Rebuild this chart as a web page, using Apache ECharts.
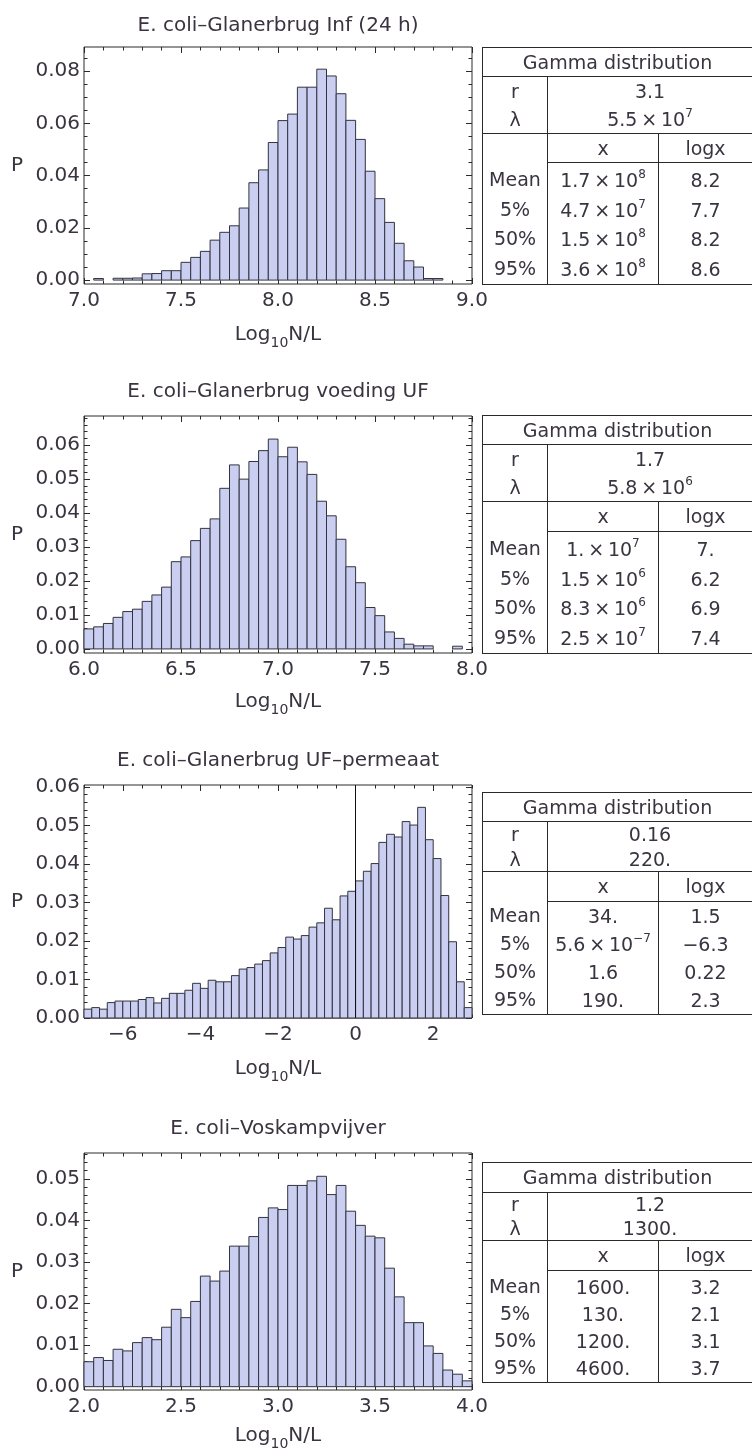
<!DOCTYPE html>
<html>
<head>
<meta charset="utf-8">
<script src="https://cdn.jsdelivr.net/npm/echarts@6/dist/echarts.min.js"></script>
<style>
  html, body { margin: 0; padding: 0; background: #fff; }
  #chart { position: absolute; left: 0; top: 0; width: 752px; height: 1449px; }
  .gt { position: absolute; left: 482px; width: 270px; border-collapse: collapse; table-layout: fixed;
        font-family: 'DejaVu Sans', sans-serif; font-size: 19px; color: #3a3340; }
  .gt td { border: 1px solid #2a2a2a; padding: 0; text-align: center; vertical-align: top; white-space: nowrap; }
  .gt sup { font-size: 12px; line-height: 0; position: relative; top: -9px; vertical-align: baseline; }
</style>
</head>
<body>
<div id="chart"></div>
<div id="tables"></div>
<script>
// histogram data: probability per bin, bins of fixed width from binStart
const infBinStart = 7.0, infBinWidth = 0.05;
const infP = [0, 0.0006, 0, 0.0007, 0.0007, 0.0008, 0.0024, 0.0025, 0.0036, 0.0036,
  0.0068, 0.0087, 0.011, 0.0153, 0.0183, 0.0208, 0.0276, 0.0373, 0.0422, 0.0527,
  0.0611, 0.0636, 0.0739, 0.0739, 0.0808, 0.0782, 0.0714, 0.0612, 0.0539, 0.0417,
  0.0312, 0.0221, 0.0141, 0.0074, 0.005, 0.0006, 0.0006, 0, 0, 0];

const voedBinStart = 6.0, voedBinWidth = 0.05;
const voedP = [0.0059, 0.0065, 0.0075, 0.0093, 0.011, 0.0117, 0.014, 0.0159, 0.0182, 0.0257,
  0.0271, 0.0319, 0.0355, 0.0383, 0.0473, 0.0542, 0.05, 0.0552, 0.0584, 0.0618,
  0.0566, 0.0594, 0.0551, 0.0514, 0.0435, 0.0392, 0.0323, 0.0242, 0.0195, 0.0122,
  0.0098, 0.005, 0.0031, 0.0014, 0.0009, 0.0009, 0, 0, 0.0008, 0];

const permBinStart = -7.0, permBinWidth = 0.2;
const permP = [0.0023, 0.0027, 0.0023, 0.004, 0.0044, 0.0044, 0.0044, 0.0048, 0.0053, 0.0039,
  0.0051, 0.0064, 0.0064, 0.0072, 0.009, 0.0077, 0.0098, 0.0094, 0.0094, 0.011,
  0.0127, 0.0131, 0.014, 0.0149, 0.0169, 0.0183, 0.021, 0.0205, 0.0214, 0.0236,
  0.0247, 0.0285, 0.0255, 0.0317, 0.0329, 0.0356, 0.0381, 0.0401, 0.0456, 0.0477,
  0.047, 0.051, 0.0501, 0.0547, 0.0463, 0.0414, 0.0318, 0.0198, 0.0094, 0.0027];

const vosBinStart = 2.0, vosBinWidth = 0.05;
const vosP = [0.006, 0.007, 0.0063, 0.009, 0.0086, 0.0106, 0.0118, 0.0113, 0.0143, 0.0186,
  0.0166, 0.0205, 0.0266, 0.0254, 0.0278, 0.0338, 0.0338, 0.0361, 0.0407, 0.043,
  0.0426, 0.0484, 0.0484, 0.0495, 0.0506, 0.0462, 0.0484, 0.0422, 0.0388, 0.0362,
  0.0358, 0.0285, 0.0216, 0.0154, 0.0154, 0.0098, 0.008, 0.004, 0.003, 0.0014];

// tick labels
const infXTicks = [7.0, 7.5, 8.0, 8.5, 9.0];
const infYTicks = [0, 0.02, 0.04, 0.06, 0.08];
const voedXTicks = [6.0, 6.5, 7.0, 7.5, 8.0];
const voedYTicks = [0, 0.01, 0.02, 0.03, 0.04, 0.05, 0.06];
const permXTicks = [-6, -4, -2, 0, 2];
const permYTicks = [0, 0.01, 0.02, 0.03, 0.04, 0.05, 0.06];
const vosXTicks = [2.0, 2.5, 3.0, 3.5, 4.0];
const vosYTicks = [0, 0.01, 0.02, 0.03, 0.04, 0.05];

const titles = ['E. coli–Glanerbrug Inf (24 h)', 'E. coli–Glanerbrug voeding UF',
  'E. coli–Glanerbrug UF–permeaat', 'E. coli–Voskampvijver'];

// gamma distribution tables
const statLabels = ['Mean', '5%', '50%', '95%'];
const rParams = ['3.1', '1.7', '0.16', '1.2'];
const lambdaParams = ['5.5×10^7', '5.8×10^6', '220.', '1300.'];
const infStatX = ['1.7×10^8', '4.7×10^7', '1.5×10^8', '3.6×10^8'];
const infStatLog = ['8.2', '7.7', '8.2', '8.6'];
const voedStatX = ['1.×10^7', '1.5×10^6', '8.3×10^6', '2.5×10^7'];
const voedStatLog = ['7.', '6.2', '6.9', '7.4'];
const permStatX = ['34.', '5.6×10^−7', '1.6', '190.'];
const permStatLog = ['1.5', '−6.3', '0.22', '2.3'];
const vosStatX = ['1600.', '130.', '1200.', '4600.'];
const vosStatLog = ['3.2', '2.1', '3.1', '3.7'];

const FONT = 'DejaVu Sans';
const TEXT = '#3a3340';
const LINE = '#2a2a2a';
const BAR_FILL = '#cacff2';
const BAR_EDGE = '#33333f';

const histos = [
  {start: infBinStart, width: infBinWidth, p: infP, xTicks: infXTicks, yTicks: infYTicks, xDigits: 1},
  {start: voedBinStart, width: voedBinWidth, p: voedP, xTicks: voedXTicks, yTicks: voedYTicks, xDigits: 1},
  {start: permBinStart, width: permBinWidth, p: permP, xTicks: permXTicks, yTicks: permYTicks, xDigits: 0},
  {start: vosBinStart, width: vosBinWidth, p: vosP, xTicks: vosXTicks, yTicks: vosYTicks, xDigits: 1}
];

// frame placement and plot ranges (Mathematica pads the y range a little)
const plots = [
  {top: 47, height: 237, x: [7, 9], y: [-0.0015, 0.0893], xMinor: 0.1, yMinor: 0.005, titleTop: 16, nameGap: 36},
  {top: 416, height: 237, x: [6, 8], y: [-0.0012, 0.0686], xMinor: 0.1, yMinor: 0.002, titleTop: 382, nameGap: 34},
  {top: 785, height: 233, x: [-7, 3], y: [0, 0.0605], xMinor: 0.5, yMinor: 0.002, titleTop: 751, nameGap: 36},
  {top: 1153, height: 237, x: [2, 4], y: [-0.0008, 0.0562], xMinor: 0.1, yMinor: 0.002, titleTop: 1119, nameGap: 31}
];

const tables = [
  {top: 47, head: 28, rl: 28, colHead: 28, row: 29.5, pad: 3},
  {top: 415, head: 28, rl: 28, colHead: 29, row: 29.5, pad: 3},
  {top: 792, head: 28, rl: 24.5, colHead: 29, row: 28, pad: 0},
  {top: 1162, head: 29, rl: 23.5, colHead: 29, row: 27, pad: 3}
];

const steps = (a, b, s) => {
  const out = [];
  const n = Math.round((b - a) / s);
  for (let k = 0; k <= n; k++) out.push(+(a + k * s).toFixed(6));
  return out;
};

const minus = s => s.replace('-', '−');

// major axis (ticks + optional labels) and a minor-tick overlay
const axisPair = (gi, pos, range, majors, minors, labels) => {
  const base = {
    type: 'value', gridIndex: gi, position: pos, min: range[0], max: range[1],
    axisLine: {show: false, onZero: false}, splitLine: {show: false}
  };
  const major = Object.assign({}, base, {
    axisTick: {show: true, inside: true, length: 6, customValues: majors, lineStyle: {color: LINE, width: 1}},
    axisLabel: labels ? Object.assign({customValues: majors}, labels) : {show: false}
  });
  const minor = Object.assign({}, base, {
    axisTick: {show: true, inside: true, length: 3.5, customValues: minors, lineStyle: {color: LINE, width: 1}},
    axisLabel: {show: false}
  });
  return [major, minor];
};

const xAxes = [], yAxes = [], grids = [], series = [], titleOpts = [];

plots.forEach((L, i) => {
  const h = histos[i];
  grids.push({left: 84, width: 388, top: L.top, height: L.height, show: true,
    borderColor: LINE, borderWidth: 1, backgroundColor: 'transparent', containLabel: false, outerBoundsMode: 'none'});

  const xMinors = steps(L.x[0], L.x[1], L.xMinor);
  const yMinors = steps(0, Math.floor(L.y[1] / L.yMinor + 1e-9) * L.yMinor, L.yMinor);

  const bottom = axisPair(i, 'bottom', L.x, h.xTicks, xMinors, {
    show: true, margin: 7, color: TEXT, fontFamily: FONT, fontSize: 20,
    formatter: v => minus(h.xDigits ? v.toFixed(h.xDigits) : String(v))
  });
  bottom[0].name = '{a|Log}{s|10}{a|N/L}';
  bottom[0].nameLocation = 'middle';
  bottom[0].nameGap = L.nameGap;
  bottom[0].nameTextStyle = {
    color: TEXT, fontFamily: FONT,
    rich: {
      a: {fontSize: 20, lineHeight: 30, fontFamily: FONT, color: TEXT},
      s: {fontSize: 14, lineHeight: 16, verticalAlign: 'bottom', fontFamily: FONT, color: TEXT}
    }
  };
  const top = axisPair(i, 'top', L.x, h.xTicks, xMinors, null);
  xAxes.push(...bottom, ...top);

  const left = axisPair(i, 'left', L.y, h.yTicks, yMinors, {
    show: true, margin: 4, color: TEXT, fontFamily: FONT, fontSize: 20,
    formatter: v => v.toFixed(2)
  });
  left[0].name = 'P';
  left[0].nameLocation = 'middle';
  left[0].nameRotate = 0;
  left[0].nameGap = 61;
  left[0].nameTextStyle = {color: TEXT, fontFamily: FONT, fontSize: 20};
  const right = axisPair(i, 'right', L.y, h.yTicks, yMinors, null);
  yAxes.push(...left, ...right);

  const s = {
    type: 'custom',
    xAxisIndex: 4 * i,
    yAxisIndex: 4 * i,
    encode: {x: [0, 1], y: 2},
    data: h.p.map((p, k) => [h.start + k * h.width, h.start + (k + 1) * h.width, p]),
    renderItem: (params, api) => {
      const p = api.value(2);
      if (!p) return null;
      const a = api.coord([api.value(0), p]);
      const b = api.coord([api.value(1), 0]);
      return {
        type: 'rect',
        shape: {x: a[0], y: a[1], width: b[0] - a[0], height: b[1] - a[1]},
        style: {fill: BAR_FILL, stroke: BAR_EDGE, lineWidth: 1}
      };
    }
  };
  if (L.x[0] < 0 && L.x[1] > 0) {
    s.markLine = {
      silent: true, symbol: ['none', 'none'], label: {show: false},
      lineStyle: {color: '#111', width: 1, type: 'solid'},
      data: [{xAxis: 0}]
    };
  }
  series.push(s);

  titleOpts.push({
    text: titles[i], left: 278, top: L.titleTop, textAlign: 'center', padding: 0,
    textStyle: {fontFamily: FONT, fontSize: 20, fontWeight: 'normal', color: TEXT}
  });
});

const chart = echarts.init(document.getElementById('chart'), null, {renderer: 'canvas'});
chart.setOption({
  animation: false,
  title: titleOpts,
  grid: grids,
  xAxis: xAxes,
  yAxis: yAxes,
  series: series
});

// tables
const sup = s => s.replace(/×10\^(.+)$/, '\u2009×\u200910<sup>$1</sup>');
const statX = [infStatX, voedStatX, permStatX, vosStatX];
const statLog = [infStatLog, voedStatLog, permStatLog, vosStatLog];
const line = (txt, hgt) => `<div style="height:${hgt}px;line-height:${hgt}px">${txt}</div>`;

document.getElementById('tables').innerHTML = tables.map((T, i) => {
  const block = arr => `<div style="height:${T.pad}px"></div>` + arr.map(v => line(sup(v), T.row)).join('');
  return `<table class="gt" style="top:${T.top}px">
    <colgroup><col style="width:65px"><col style="width:111px"><col style="width:94px"></colgroup>
    <tr><td colspan="3">${line('Gamma distribution', T.head)}</td></tr>
    <tr><td>${line('r', T.rl)}${line('λ', T.rl)}</td>
        <td colspan="2">${line(rParams[i], T.rl)}${line(sup(lambdaParams[i]), T.rl)}</td></tr>
    <tr><td rowspan="2"><div style="height:${T.colHead}px"></div>${block(statLabels)}</td>
        <td>${line('x', T.colHead)}</td><td>${line('logx', T.colHead)}</td></tr>
    <tr><td>${block(statX[i])}</td><td>${block(statLog[i])}</td></tr>
  </table>`;
}).join('');
</script>
</body>
</html>
